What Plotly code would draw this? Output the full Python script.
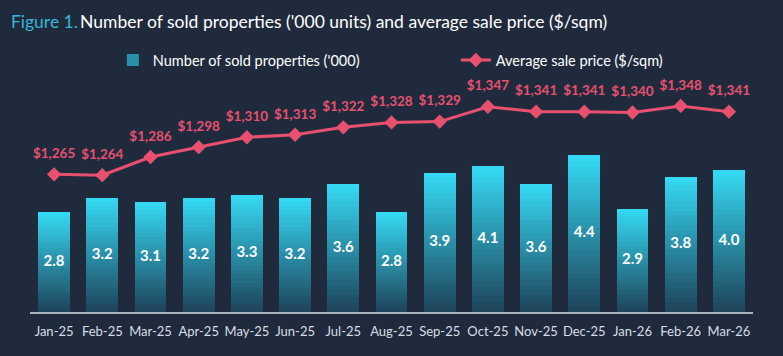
import plotly.graph_objects as go

months = ["Jan-25", "Feb-25", "Mar-25", "Apr-25", "May-25", "Jun-25", "Jul-25", "Aug-25",
          "Sep-25", "Oct-25", "Nov-25", "Dec-25", "Jan-26", "Feb-26", "Mar-26"]
sold_units = [2.8, 3.2, 3.1, 3.2, 3.3, 3.2, 3.6, 2.8, 3.9, 4.1, 3.6, 4.4, 2.9, 3.8, 4.0]
avg_price = [1265, 1264, 1286, 1298, 1310, 1313, 1322, 1328, 1329, 1347, 1341, 1341, 1340, 1348, 1341]

BG = "#1f2b3d"
LINE = "#e8506f"
FONT = "Lato"
N = 28
c0 = (0x1e, 0x45, 0x5c)
c1 = (0x35, 0xd8, 0xf2)


def mix(t):
    return "rgb(%d,%d,%d)" % tuple(round(a + (b - a) * t) for a, b in zip(c0, c1))


fig = go.Figure()
for k in range(N):
    fig.add_trace(go.Bar(
        x=months, y=[v / N for v in sold_units],
        marker=dict(color=mix(k / (N - 1)), line=dict(width=0)),
        name="Number of sold properties ('000)",
        showlegend=(k == N // 2),
        hoverinfo="skip", yaxis="y"))

fig.add_trace(go.Scatter(
    x=months, y=[v / 2 for v in sold_units], mode="text",
    text=["%.1f" % v for v in sold_units],
    textfont=dict(family=FONT, size=15, color="white", weight="bold"),
    showlegend=False, hoverinfo="skip", yaxis="y"))

fig.add_trace(go.Scatter(
    x=months, y=avg_price, mode="markers+text",
    text=["${:,}".format(v) for v in avg_price],
    textposition="top center",
    marker=dict(size=19, opacity=0),
    textfont=dict(family=FONT, size=13.5, color=LINE, weight="bold"),
    showlegend=False, hoverinfo="skip", yaxis="y2"))

fig.add_trace(go.Scatter(
    x=months, y=avg_price, mode="lines+markers",
    name="Average sale price ($/sqm)",
    line=dict(color=LINE, width=3),
    marker=dict(symbol="diamond", size=11, color=LINE),
    yaxis="y2", hoverinfo="skip"))

fig.update_layout(
    width=783, height=356,
    paper_bgcolor=BG, plot_bgcolor=BG,
    margin=dict(l=30, r=30, t=75, b=44, autoexpand=False),
    barmode="stack", bargap=0.34,
    font=dict(family=FONT, color="white"),
    title=dict(
        text="<span style='color:#38b6d8'>Figure 1.</span>\u2009Number of sold properties ('000 units) and average sale price ($/sqm)",
        x=0.014, xanchor="left", y=0.938, yanchor="middle",
        font=dict(family=FONT, size=17.5, color="white")),
    legend=dict(orientation="h", x=0.589, xanchor="center", y=1.063, yanchor="middle",
                traceorder="normal",
                font=dict(family=FONT, size=14.5, color="white"),
                entrywidth=298, bgcolor="rgba(0,0,0,0)"),
    xaxis=dict(range=[-0.5, len(months) - 0.5], showgrid=False, showline=True,
               linecolor="#aab2bd", linewidth=2, ticklabelstandoff=6,
               tickfont=dict(family=FONT, size=13, color="#d8dde4"), ticks=""),
    yaxis=dict(range=[0, 6.66], visible=False, showgrid=False),
    yaxis2=dict(range=[1098, 1385.5], overlaying="y", visible=False, showgrid=False),
)

fig.write_html("out.html", config={"displayModeBar": False},
               post_script="document.body.style.margin='0';document.body.style.background='%s';" % BG)
